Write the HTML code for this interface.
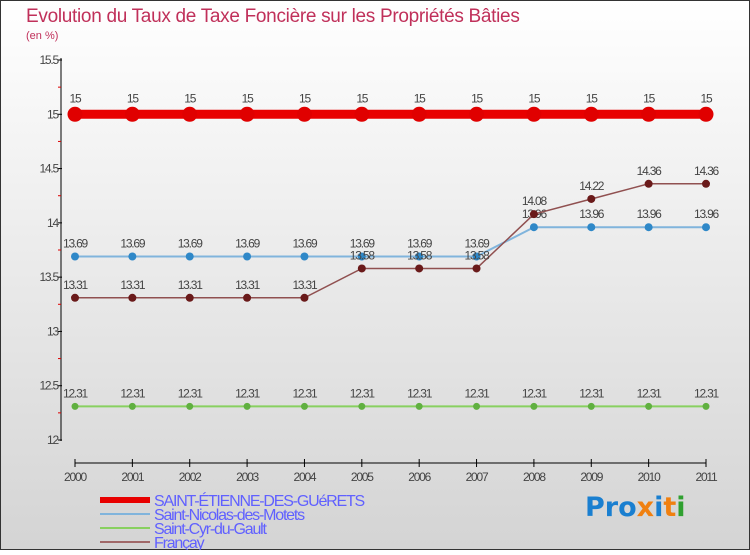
<!DOCTYPE html>
<html><head><meta charset="utf-8"><style>
html,body{margin:0;padding:0}
body{width:750px;height:550px;overflow:hidden;font-family:"Liberation Sans",sans-serif}
</style></head><body>
<svg id="chart" width="750" height="550" xmlns="http://www.w3.org/2000/svg" font-family="Liberation Sans, sans-serif">
<defs><linearGradient id="bg" x1="0" y1="0" x2="0" y2="1"><stop offset="0" stop-color="#ffffff"/><stop offset="1" stop-color="#d4d4d4"/></linearGradient></defs>
<rect x="0.5" y="0.5" width="749" height="549" fill="url(#bg)" stroke="#333"/>
<text x="26" y="22" font-size="19" fill="#c0305a" letter-spacing="-0.3" font-weight="300">Evolution du Taux de Taxe Foncière sur les Propriétés Bâties</text>
<text x="26" y="39" font-size="11" fill="#c0305a">(en %)</text>
<g id="axes"></g>
<g id="series"></g>
<g id="legend"></g>
<text x="585" y="516" font-size="27" font-weight="bold" font-family="DejaVu Sans, sans-serif"><tspan fill="#1a7fd0">Pro</tspan><tspan fill="#f08010">x</tspan><tspan fill="#1a7fd0">i</tspan><tspan fill="#f08010">t</tspan><tspan fill="#30a030">i</tspan></text>
</svg>
<script>
const years=[2000,2001,2002,2003,2004,2005,2006,2007,2008,2009,2010,2011];
const seriesNames=["SAINT-ÉTIENNE-DES-GUéRETS","Saint-Nicolas-des-Motets","Saint-Cyr-du-Gault","Françay"];
const stEtienne=[15,15,15,15,15,15,15,15,15,15,15,15];
const stNicolas=[13.69,13.69,13.69,13.69,13.69,13.69,13.69,13.69,13.96,13.96,13.96,13.96];
const stCyr=[12.31,12.31,12.31,12.31,12.31,12.31,12.31,12.31,12.31,12.31,12.31,12.31];
const francay=[13.31,13.31,13.31,13.31,13.31,13.58,13.58,13.58,14.08,14.22,14.36,14.36];
const yTicks=[12,12.5,13,13.5,14,14.5,15,15.5];
const yTickLabels=["12","12.5","13","13.5","14","14.5","15","15.5"];

const NS="http://www.w3.org/2000/svg";
const x=i=>75+i*(706-75)/(years.length-1);
const y=v=>440-(v-12)*(440-60)/3.5;
function mk(tag,attrs,parent,text){const e=document.createElementNS(NS,tag);for(const k in attrs)e.setAttribute(k,attrs[k]);if(text!==undefined)e.textContent=text;parent.appendChild(e);return e;}
const axes=document.getElementById('axes');
let e=mk('line',{x1:61,y1:58,x2:61,y2:441,stroke:'#000','stroke-width':1},axes);


yTicks.forEach((t,i)=>{
  mk('line',{x1:58,y1:y(t),x2:62,y2:y(t),stroke:'#000'},axes);
  if(i<yTicks.length-1)mk('line',{x1:58,y1:y(t+0.25),x2:61,y2:y(t+0.25),stroke:'#d00'},axes);
  const l=mk('text',{x:58,y:y(t)+4,'font-size':12,fill:'#444','text-anchor':'end','letter-spacing':'-1.2'},axes,yTickLabels[i]);
  
  
});
e=mk('line',{x1:75,y1:463,x2:706,y2:463,stroke:'#000'},axes);


years.forEach((yr,i)=>{
  mk('line',{x1:x(i),y1:459,x2:x(i),y2:467,stroke:'#000'},axes);
  const l=mk('text',{x:x(i),y:481,'font-size':12,fill:'#444','text-anchor':'middle','letter-spacing':'-1.2'},axes,String(yr));
  
  
});
const sg=document.getElementById('series');
const defs=[
 {d:stCyr,line:'#88d060',w:2,pt:'#60b040',r:3.5,name:'saint-cyr'},
 {d:stNicolas,line:'#80b4dc',w:2,pt:'#2f88c8',r:4,name:'saint-nicolas'},
 {d:francay,line:'#905050',w:1.5,pt:'#6a1a1a',r:4,name:'francay'},
 {d:stEtienne,line:'#e80000',w:9,pt:'#e00000',r:7.5,name:'saint-etienne'}
];
defs.forEach(s=>{
  const g=mk('g',{},sg);
  
  
  mk('polyline',{points:s.d.map((v,i)=>x(i)+','+y(v)).join(' '),fill:'none',stroke:s.line,'stroke-width':s.w},g);
  s.d.forEach((v,i)=>{
    const c=mk('circle',{cx:x(i),cy:y(v),r:s.r,fill:s.pt},g);
    
    
    const t=mk('text',{x:x(i),y:y(v)-(s.r>6?12:9),'font-size':12,fill:'#444','text-anchor':'middle','letter-spacing':'-1.2'},g,String(v));
    
    
  });
});
const lg=document.getElementById('legend');
const legStyle=[{c:'#e80000',h:6},{c:'#80b4dc',h:2},{c:'#88d060',h:2},{c:'#a06868',h:2}];
seriesNames.forEach((n,i)=>{
  const yy=494+i*14;
  const g=mk('g',{},lg);
  
  
  mk('rect',{x:100,y:yy+6-legStyle[i].h/2,width:50,height:legStyle[i].h,fill:legStyle[i].c},g);
  mk('text',{x:154,y:yy+12,'font-size':16,fill:'#6060ff','letter-spacing':'-1.2'},g,n);
});
</script>
</body></html>
